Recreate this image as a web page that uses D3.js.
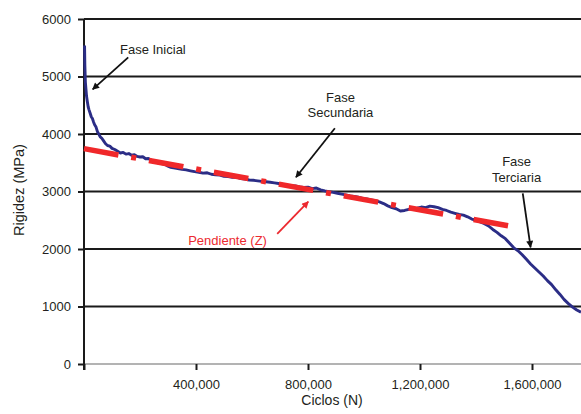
<!DOCTYPE html>
<html>
<head>
<meta charset="utf-8">
<script src="https://cdn.jsdelivr.net/npm/d3@7"></script>
<style>
body { margin: 0; background: #fff; }
svg { display: block; font-family: "Liberation Sans", Arial, sans-serif; }
</style>
</head>
<body>
<svg id="chart" width="581" height="414"></svg>
<script>
const cycles = [
    2000, 3000, 5000, 7000, 9000, 12000, 15000, 18000, 22000, 26000,
    30000, 34000, 38000, 43000, 48000, 53000, 58000, 63000, 70000, 77000,
    84000, 92000, 100000, 110000, 120000, 130000, 140000, 150000, 160000, 170000,
    180000, 190000, 200000, 210000, 220000, 230000, 240000, 250000, 260000, 270000,
    280000, 290000, 300000, 310000, 320000, 335000, 350000, 365000, 380000, 395000,
    410000, 425000, 440000, 455000, 470000, 485000, 500000, 515000, 530000, 545000,
    560000, 575000, 590000, 605000, 620000, 635000, 650000, 665000, 680000, 695000,
    710000, 725000, 740000, 755000, 770000, 785000, 800000, 815000, 830000, 845000,
    860000, 875000, 890000, 905000, 920000, 935000, 950000, 965000, 980000, 995000,
    1010000, 1025000, 1040000, 1055000, 1070000, 1085000, 1100000, 1115000, 1130000, 1145000,
    1160000, 1175000, 1190000, 1205000, 1220000, 1235000, 1250000, 1265000, 1280000, 1295000,
    1310000, 1325000, 1340000, 1355000, 1370000, 1385000, 1400000, 1415000, 1430000, 1445000,
    1460000, 1475000, 1490000, 1505000, 1520000, 1535000, 1550000, 1565000, 1580000, 1595000,
    1610000, 1625000, 1640000, 1655000, 1670000, 1685000, 1700000, 1715000, 1730000, 1745000,
    1760000, 1775000
];
const rigidez = [
    5540, 5200, 4900, 4780, 4660, 4560, 4470, 4420, 4360, 4300,
    4270, 4210, 4160, 4120, 4040, 4000, 3950, 3930, 3880, 3830,
    3800, 3790, 3750, 3730, 3700, 3670, 3680, 3650, 3660, 3630,
    3640, 3610, 3600, 3605, 3570, 3575, 3545, 3530, 3505, 3495,
    3480, 3470, 3440, 3420, 3410, 3400, 3385, 3375, 3360, 3345,
    3335, 3320, 3325, 3300, 3290, 3285, 3265, 3260, 3245, 3250,
    3225, 3215, 3200, 3195, 3185, 3175, 3170, 3160, 3150, 3140,
    3125, 3110, 3100, 3095, 3080, 3070, 3075, 3050, 3060, 3030,
    3010, 2995, 2985, 2970, 2955, 2940, 2925, 2915, 2900, 2880,
    2870, 2855, 2840, 2820, 2790, 2750, 2720, 2700, 2660, 2670,
    2690, 2705, 2710, 2730, 2720, 2745, 2735, 2720, 2690, 2670,
    2640, 2620, 2600, 2590, 2560, 2520, 2500, 2470, 2440, 2400,
    2340, 2290, 2230, 2180, 2100, 2020, 1970, 1900, 1820, 1740,
    1670, 1600, 1530, 1450, 1380, 1290, 1210, 1120, 1050, 990,
    940, 900
];
// linear trend of the secondary phase
const trendCycles = [0, 1545000];
const trendRigidez = [3745, 2377];

const yTicks = [0, 1000, 2000, 3000, 4000, 5000, 6000];
const xTicks = [0, 400000, 800000, 1200000, 1600000];

// annotations, in data units
const labels = [
    { lines: ['Fase Inicial'], at: [128600, 5391], anchor: 'start', color: '#231f20' },
    { lines: ['Fase', 'Secundaria'], at: [916000, 4562], anchor: 'middle', color: '#231f20' },
    { lines: ['Pendiente (Z)'], at: [372000, 2070], anchor: 'start', color: '#ec2a30' },
    { lines: ['Fase', 'Terciaria'], at: [1545000, 3443], anchor: 'middle', color: '#231f20' }
];
const arrows = [
    { from: [158000, 5334], to: [31000, 4777], color: '#111' },
    { from: [896000, 4099], to: [757000, 3247], color: '#111' },
    { from: [690000, 2261], to: [801000, 2823], color: '#ec2a30' },
    { from: [1567000, 2969], to: [1595000, 2030], color: '#111' }
];

const width = 581, height = 414;
const margin = { top: 19, right: 0, bottom: 50, left: 84 };

const svg = d3.select('#chart');

const x = d3.scaleLinear()
    .domain([0, 1775000])
    .range([margin.left, width - margin.right]);
const y = d3.scaleLinear()
    .domain([0, 6000])
    .range([height - margin.bottom, margin.top]);

// horizontal grid
svg.append('g')
    .selectAll('line')
    .data(yTicks)
    .join('line')
    .attr('x1', margin.left)
    .attr('x2', width)
    .attr('y1', d => y(d))
    .attr('y2', d => y(d))
    .attr('stroke', d => d === 0 ? '#9a9a9a' : '#1a1a1a')
    .attr('stroke-width', d => d === 0 ? 1.5 : 2);

// axes
const yAxis = svg.append('g')
    .attr('transform', `translate(${margin.left},0)`)
    .call(d3.axisLeft(y).tickValues(yTicks).tickSize(6).tickSizeOuter(0).tickPadding(7).tickFormat(d3.format('d')));
yAxis.select('.domain').attr('stroke', '#1a1a1a').attr('stroke-width', 2)
    .attr('d', `M0,${y(6000)}V${y(0) + 6}`);
yAxis.selectAll('.tick line').attr('stroke', '#1a1a1a').attr('stroke-width', 2);
yAxis.selectAll('.tick text').attr('font-size', 13).attr('fill', '#231f20')
    .attr('font-family', '"Liberation Sans", Arial, sans-serif');

const xAxis = svg.append('g')
    .attr('transform', `translate(0,${y(0)})`)
    .call(d3.axisBottom(x).tickValues(xTicks).tickSize(6).tickSizeOuter(0).tickPadding(10)
        .tickFormat(d => d === 0 ? '' : d3.format(',')(d)));
xAxis.select('.domain').remove();
xAxis.selectAll('.tick line').attr('stroke', '#1a1a1a').attr('stroke-width', 2);
xAxis.selectAll('.tick text').attr('font-size', 13).attr('fill', '#231f20')
    .attr('font-family', '"Liberation Sans", Arial, sans-serif');

// axis titles
svg.append('text')
    .attr('x', 332)
    .attr('y', 405)
    .attr('text-anchor', 'middle')
    .attr('font-size', 14)
    .attr('fill', '#231f20')
    .text('Ciclos (N)');
svg.append('text')
    .attr('transform', 'translate(24,190) rotate(-90)')
    .attr('text-anchor', 'middle')
    .attr('font-size', 14.5)
    .attr('fill', '#231f20')
    .text('Rigidez (MPa)');

// measured curve
const line = d3.line()
    .x(d => x(d[0]))
    .y(d => y(d[1]));
svg.append('path')
    .datum(d3.zip(cycles, rigidez))
    .attr('fill', 'none')
    .attr('stroke', '#2b2d86')
    .attr('stroke-width', 2.9)
    .attr('stroke-linejoin', 'round')
    .attr('d', line);

// trend line
svg.append('path')
    .datum(d3.zip(trendCycles, trendRigidez))
    .attr('fill', 'none')
    .attr('stroke', '#f0282a')
    .attr('stroke-width', 5.5)
    .attr('stroke-dasharray', '35 13 5 13')
    .attr('d', line);

// arrow heads
const defs = svg.append('defs');
const markerFor = color => {
    const id = 'arrow' + color.replace('#', '');
    if (defs.select('#' + id).empty()) {
        defs.append('marker')
            .attr('id', id)
            .attr('viewBox', '0 0 10 10')
            .attr('refX', 9)
            .attr('refY', 5)
            .attr('markerUnits', 'userSpaceOnUse')
            .attr('markerWidth', 10)
            .attr('markerHeight', 7)
            .attr('orient', 'auto')
            .append('path')
            .attr('d', 'M0,0L10,5L0,10Z')
            .attr('fill', color);
    }
    return `url(#${id})`;
};

svg.append('g')
    .selectAll('line')
    .data(arrows)
    .join('line')
    .attr('x1', d => x(d.from[0]))
    .attr('y1', d => y(d.from[1]))
    .attr('x2', d => x(d.to[0]))
    .attr('y2', d => y(d.to[1]))
    .attr('stroke', d => d.color)
    .attr('stroke-width', 1.8)
    .attr('marker-end', d => markerFor(d.color));

// annotation texts
labels.forEach(l => {
    const t = svg.append('text')
        .attr('x', x(l.at[0]))
        .attr('y', y(l.at[1]))
        .attr('text-anchor', l.anchor)
        .attr('font-size', 13)
        .attr('fill', l.color);
    l.lines.forEach((s, i) => {
        t.append('tspan')
            .attr('x', x(l.at[0]))
            .attr('dy', i === 0 ? 0 : 15.7)
            .text(s);
    });
});
</script>
</body>
</html>
